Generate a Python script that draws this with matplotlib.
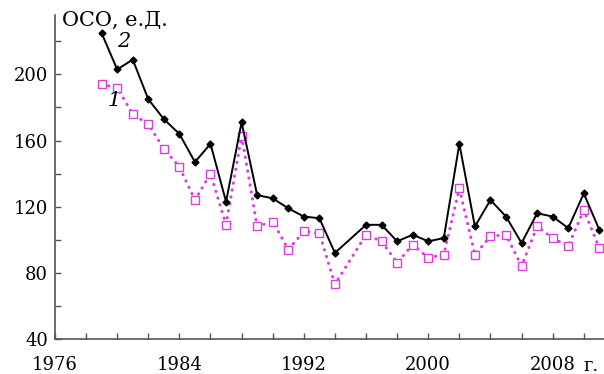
import matplotlib
matplotlib.use("Agg")
import matplotlib.pyplot as plt
from matplotlib.ticker import MultipleLocator

# years (no data for 1995)
years = [1979, 1980, 1981, 1982, 1983, 1984, 1985, 1986, 1987, 1988,
         1989, 1990, 1991, 1992, 1993, 1994, 1996, 1997, 1998, 1999,
         2000, 2001, 2002, 2003, 2004, 2005, 2006, 2007, 2008, 2009,
         2010, 2011]
# curve 2 (black, solid)
oso_2 = [225, 203, 209, 185, 173, 164, 147, 158, 123, 171,
         127, 125, 119, 114, 113, 92, 109, 109, 99, 103,
         99, 101, 158, 108, 124, 114, 98, 116, 114, 107,
         128, 106]
# curve 1 (magenta, dotted)
oso_1 = [194, 192, 176, 170, 155, 144, 124, 140, 109, 163,
         108, 111, 94, 105, 104, 73, 103, 99, 86, 97,
         89, 91, 131, 91, 102, 103, 84, 108, 101, 96,
         118, 95]

xticks = [1976, 1984, 1992, 2000, 2008]
yticks = [40, 80, 120, 160, 200]

plt.rcParams['font.family'] = ['DejaVu Serif']

fig = plt.figure(figsize=(6.04, 3.74), dpi=100)
ax = fig.add_axes([0.091, 0.094, 0.909, 0.866])

mag = '#dc3ce0'
ax.plot(years, oso_1, color=mag, linestyle=(0, (0.1, 2.2)), linewidth=2.2,
        marker='s', markersize=6, markerfacecolor='white',
        markeredgecolor=mag, markeredgewidth=1.0,
        dash_capstyle='round', zorder=2)
ax.plot(years, oso_2, color='black', linestyle='-', linewidth=1.4,
        marker='D', markersize=3.5, markerfacecolor='black', zorder=3)

ax.set_xlim(1976, 2011.3)
ax.set_ylim(40, 236)

ax.xaxis.set_minor_locator(MultipleLocator(2))
ax.yaxis.set_minor_locator(MultipleLocator(20))
ax.set_xticks(xticks)
ax.set_yticks(yticks)

for side in ['top', 'right']:
    ax.spines[side].set_visible(False)
for side in ['left', 'bottom']:
    ax.spines[side].set_color('#555555')
    ax.spines[side].set_linewidth(1.2)

ax.tick_params(which='both', direction='in', length=4, width=1,
               color='#555555', labelsize=13)
ax.tick_params(axis='y', pad=5)
ax.tick_params(axis='x', pad=12)

ax.text(2010.0, -0.098, 'г.', transform=ax.get_xaxis_transform(),
        fontsize=13, ha='left', va='baseline')

ax.text(0.013, 1.012, 'ОСО, е.Д.', transform=ax.transAxes,
        fontsize=15, ha='left', va='top')

ax.text(1980.4, 220, '2', fontsize=15, style='italic', ha='center', va='center')
ax.text(1979.8, 184, '1', fontsize=15, style='italic', ha='center', va='center')

fig.savefig('out.png', dpi=100)
